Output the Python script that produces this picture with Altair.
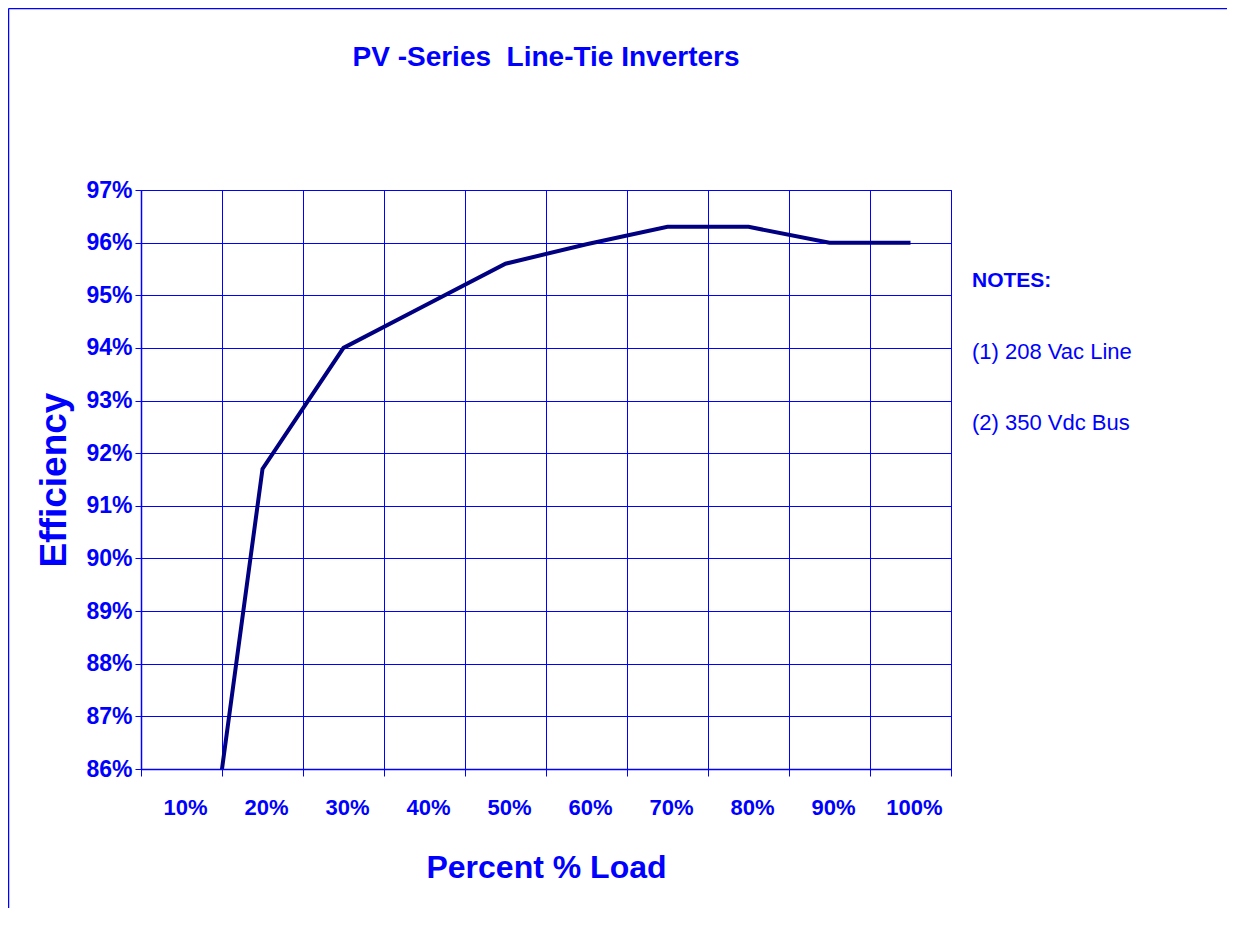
import altair as alt
import pandas as pd

# ---- data ----
load_pct = [10, 20, 30, 40, 50, 60, 70, 80, 90, 100]
efficiency = [80.3, 91.7, 94.0, 94.8, 95.6, 95.97, 96.3, 96.3, 96.0, 96.0]
y_ticks = [86, 87, 88, 89, 90, 91, 92, 93, 94, 95, 96, 97]
x_bounds = [5, 15, 25, 35, 45, 55, 65, 75, 85, 95, 105]
title_text = "PV -Series\u00a0 Line-Tie Inverters"
notes = ["NOTES:", "(1) 208 Vac Line", "(2) 350 Vdc Bus"]

df = pd.DataFrame({"load": load_pct, "eff": efficiency})

BLUE = "#0000FF"
NAVY = "#000080"
FONT = "Liberation Sans"

x_enc = alt.X(
    "load:Q",
    scale=alt.Scale(domain=[5, 105], nice=False, zero=False),
    axis=alt.Axis(
        values=x_bounds,
        grid=True,
        gridColor=BLUE,
        gridWidth=1,
        domainColor=BLUE,
        domainWidth=1.5,
        tickColor=BLUE,
        tickSize=7,
        labelExpr="datum.value < 100 ? (datum.value + 5) + '%' : ''",
        labelOffset=44,
        labelOverlap=False,
        labelFlush=False,
        labelBound=False,
        labelFont=FONT,
        labelFontSize=22,
        labelFontWeight="bold",
        labelColor=BLUE,
        labelPadding=21,
        title="Percent % Load",
        titleFont=FONT,
        titleFontSize=32,
        titleFontWeight="bold",
        titleColor=BLUE,
        titlePadding=34,
    ),
)

y_enc = alt.Y(
    "eff:Q",
    scale=alt.Scale(domain=[86, 97], nice=False, zero=False),
    axis=alt.Axis(
        values=y_ticks,
        grid=True,
        gridColor=BLUE,
        gridWidth=1,
        domainColor=BLUE,
        domainWidth=1.5,
        tickColor=BLUE,
        tickSize=6,
        labelExpr="datum.value + '%'",
        labelFont=FONT,
        labelFontSize=23,
        labelFontWeight="bold",
        labelColor=BLUE,
        labelPadding=3,
        title="Efficiency",
        titleFont=FONT,
        titleFontSize=37,
        titleFontWeight="bold",
        titleColor=BLUE,
        titlePadding=12,
    ),
)

line = alt.Chart(df).mark_line(color=NAVY, strokeWidth=4, clip=True).encode(
    x=x_enc, y=y_enc
)

one = alt.Data(values=[{}])
title_mark = alt.Chart(one).mark_text(
    text=title_text, align="center", baseline="middle", font=FONT,
    fontSize=28, fontWeight="bold", color=BLUE
).encode(x=alt.value(405), y=alt.value(-132))
note0 = alt.Chart(one).mark_text(
    text=notes[0], align="left", baseline="middle", font=FONT,
    fontSize=21, fontWeight="bold", color=BLUE
).encode(x=alt.value(831), y=alt.value(91))
note1 = alt.Chart(one).mark_text(
    text=notes[1], align="left", baseline="middle", font=FONT,
    fontSize=22, color=BLUE
).encode(x=alt.value(831), y=alt.value(162))
note2 = alt.Chart(one).mark_text(
    text=notes[2], align="left", baseline="middle", font=FONT,
    fontSize=22, color=BLUE
).encode(x=alt.value(831), y=alt.value(233))

frame_top = alt.Chart(one).mark_rule(color=BLUE, strokeWidth=1.5).encode(
    x=alt.value(-132.5), x2=alt.value(1200), y=alt.value(-181.5)
)
frame_left = alt.Chart(one).mark_rule(color=BLUE, strokeWidth=1.5).encode(
    x=alt.value(-132.5), y=alt.value(-181.5), y2=alt.value(1000)
)

chart = (
    alt.layer(line, title_mark, note0, note1, note2, frame_top, frame_left)
    .properties(
        width=810,
        height=579,
        autosize=alt.AutoSizeParams(type="none"),
        padding={"left": 133, "top": 182, "right": 276, "bottom": 139},
        background="white",
    )
    .configure_view(stroke=BLUE, strokeWidth=1)
)

chart.save("out.html", embed_options={"renderer": "svg", "actions": False})
